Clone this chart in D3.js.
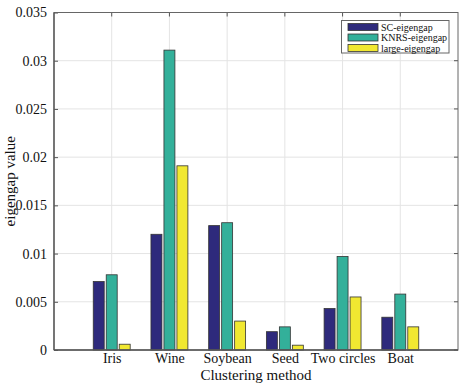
<!DOCTYPE html>
<html><head><meta charset="utf-8">
<script src="https://cdn.jsdelivr.net/npm/d3@7/dist/d3.min.js"></script>
<style>body{margin:0;background:#fff}svg{display:block}svg text{font-family:"Liberation Serif","Times New Roman",Tinos,"DejaVu Serif",serif !important;fill:#111}</style>
</head><body>
<script>
const categories = ["Iris","Wine","Soybean","Seed","Two circles","Boat"];
const seriesNames = ["SC-eigengap","KNRS-eigengap","large-eigengap"];
const scValues = [0.0071,0.0120,0.0129,0.0019,0.0043,0.0034];
const knrsValues = [0.0078,0.0311,0.0132,0.0024,0.0097,0.0058];
const largeValues = [0.0006,0.0191,0.0030,0.0005,0.0055,0.0024];
const yTicks = [0,0.005,0.01,0.015,0.02,0.025,0.03,0.035];
const yTickLabels = ["0","0.005","0.01","0.015","0.02","0.025","0.03","0.035"];
const colors = ["#2e2a7c","#33b09a","#f1e831"];

const W=462,H=383;
const L=54,R=458,T=12.5,B=350;
const svg=d3.select("body").append("svg").attr("width",W).attr("height",H);
const x=d3.scaleLinear().domain([0,7]).range([L,R]);
const y=d3.scaleLinear().domain([0,0.035]).range([B,T]);
const series=[scValues,knrsValues,largeValues];

// grid
svg.append("g").selectAll("line").data(yTicks.slice(1,-1)).join("line")
 .attr("x1",L).attr("x2",R).attr("y1",d=>y(d)).attr("y2",d=>y(d))
 .attr("stroke","#e4e4e4").attr("stroke-width",1);
svg.append("g").selectAll("line").data(categories).join("line")
 .attr("x1",(d,i)=>x(i+1)).attr("x2",(d,i)=>x(i+1)).attr("y1",T).attr("y2",B)
 .attr("stroke","#e4e4e4").attr("stroke-width",1);

// bars
const bw=0.19, off=0.225;
series.forEach((vals,s)=>{
  svg.append("g").selectAll("rect").data(vals).join("rect")
   .attr("x",(d,i)=>x(i+1+(s-1)*off-bw/2))
   .attr("width",x(bw)-x(0))
   .attr("y",d=>y(d)).attr("height",d=>y(0)-y(d))
   .attr("fill",colors[s]).attr("stroke","#333").attr("stroke-width",0.8);
});

// axes
const ax=svg.append("g").attr("transform",`translate(0,${B})`)
 .call(d3.axisBottom(x).tickValues(d3.range(1,7)).tickFormat(d=>categories[d-1]).tickSize(0).tickPadding(3));
const ay=svg.append("g").attr("transform",`translate(${L},0)`)
 .call(d3.axisLeft(y).tickValues(yTicks).tickFormat((d,i)=>yTickLabels[i]).tickSize(4).tickPadding(3));
[ax,ay].forEach(a=>{a.attr("font-family",null).attr("font-size",null);a.select(".domain").remove();a.selectAll("text").attr("font-size",14);a.selectAll("line").attr("stroke","#555");});
ay.selectAll(".tick line").attr("x2",4);
// top ticks and right ticks
svg.append("g").selectAll("line").data(d3.range(1,7)).join("line")
 .attr("x1",d=>x(d)).attr("x2",d=>x(d)).attr("y1",T).attr("y2",T+4).attr("stroke","#555");
svg.append("g").selectAll("line").data(yTicks).join("line")
 .attr("x1",R).attr("x2",R-4).attr("y1",d=>y(d)).attr("y2",d=>y(d)).attr("stroke","#555");
svg.append("rect").attr("x",L).attr("y",T).attr("width",R-L).attr("height",B-T)
 .attr("fill","none").attr("stroke","#666").attr("stroke-width",1);
svg.append("line").attr("x1",L).attr("x2",R).attr("y1",B).attr("y2",B).attr("stroke","#555").attr("stroke-width",1.3);
svg.append("line").attr("x1",L).attr("x2",L).attr("y1",T).attr("y2",B).attr("stroke","#555").attr("stroke-width",1.3);

// labels
svg.append("text").attr("x",(L+R)/2).attr("y",380).attr("text-anchor","middle").attr("font-size",15).text("Clustering method");
svg.append("text").attr("transform",`translate(15,${(T+B)/2}) rotate(-90)`).attr("text-anchor","middle").attr("font-size",15).text("eigengap value");

// legend
const lg=svg.append("g");
lg.append("rect").attr("x",341.5).attr("y",20.5).attr("width",107.5).attr("height",32.5).attr("fill","#fff").attr("stroke","#666");
seriesNames.forEach((n,i)=>{
  lg.append("rect").attr("x",348).attr("y",23.5+i*10.5).attr("width",30).attr("height",7).attr("fill",colors[i]).attr("stroke","#333").attr("stroke-width",0.8);
  lg.append("text").attr("x",381).attr("y",30.5+i*10.5).attr("font-size",10).text(n);
});
</script>
</body></html>
